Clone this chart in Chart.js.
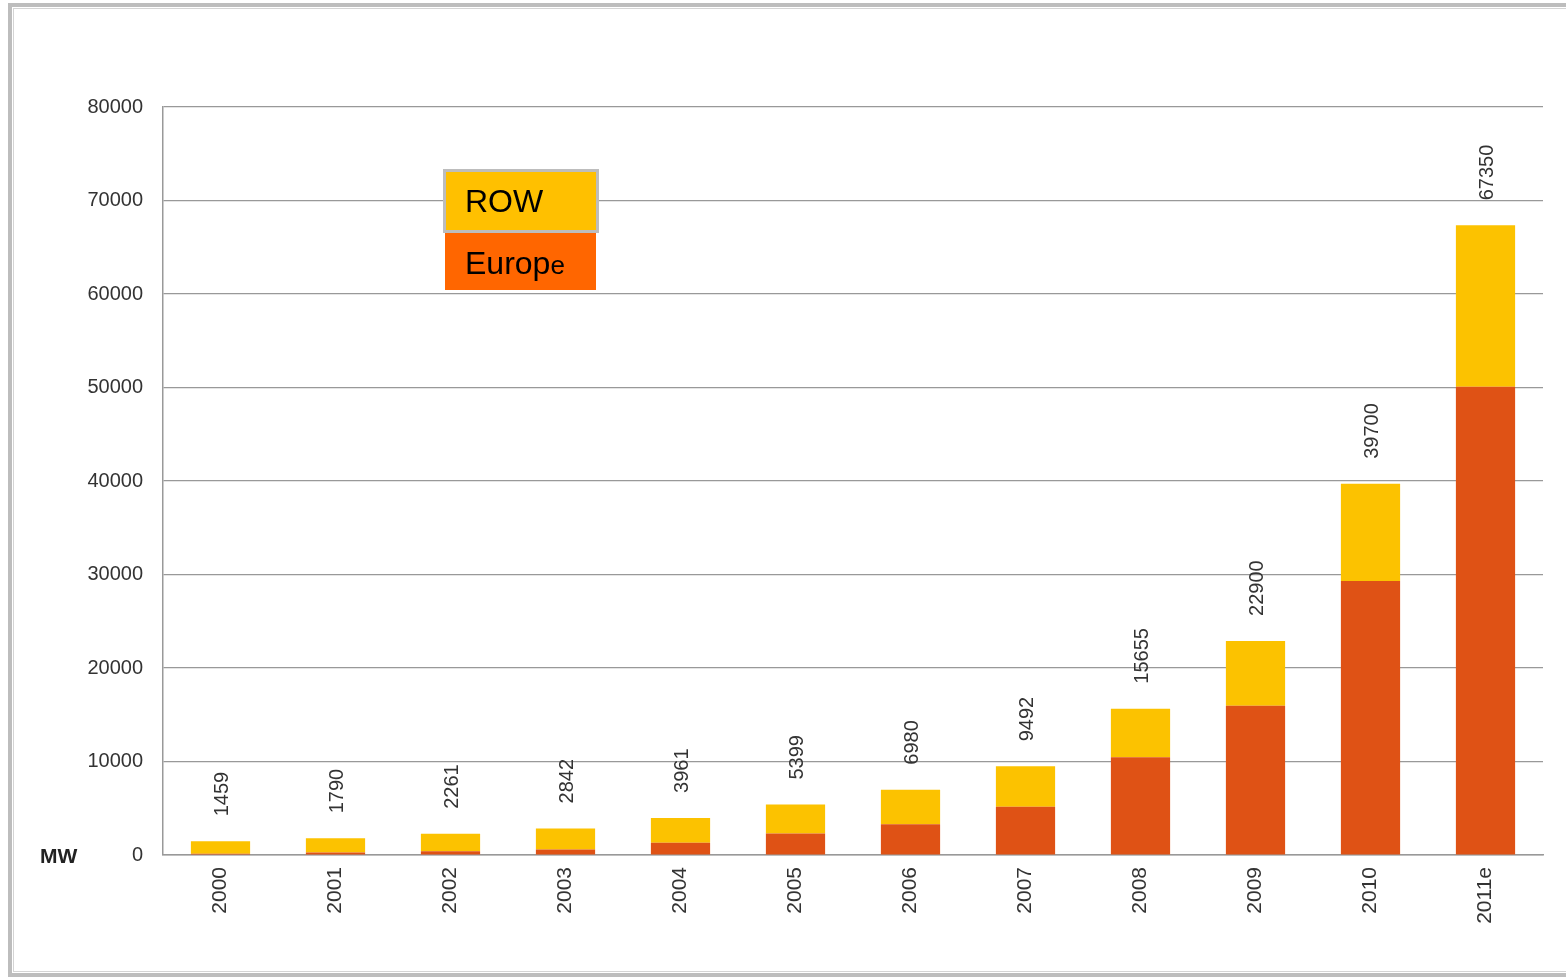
<!DOCTYPE html>
<html>
<head>
<meta charset="utf-8">
<title>PV capacity</title>
<script src="https://cdn.jsdelivr.net/npm/chart.js@4"></script>
<style>
  html, body { margin: 0; padding: 0; background: #fff; overflow: hidden; }
  #wrap { position: relative; width: 1566px; height: 978px; }
  #frame {
    position: absolute; left: 8px; top: 3px; width: 1700px; height: 966px;
    border: 4px solid #bdbdbd; pointer-events: none;
  }
  #frame .inner {
    position: absolute; left: 1px; top: 1px; right: 1px; bottom: 1px;
    border: 1px solid #d4d4d4;
  }
  canvas { position: absolute; left: 0; top: 0; }
</style>
</head>
<body>
<div id="wrap">
  <canvas id="pv" width="1566" height="978"></canvas>
  <div id="frame"><div class="inner"></div></div>
</div>
<script>
// yearly installed capacity, MW
const years = ['2000', '2001', '2002', '2003', '2004', '2005', '2006', '2007', '2008', '2009', '2010', '2011e'];
const totals = [1459, 1790, 2261, 2842, 3961, 5399, 6980, 9492, 15655, 22900, 39700, 67350];
const europe = [130, 260, 400, 600, 1300, 2300, 3280, 5170, 10450, 15970, 29300, 50090];
const row = totals.map((t, i) => t - europe[i]);

const FONT = '"Liberation Sans", Arial, sans-serif';

// total above each stack, rotated
const totalLabels = {
  id: 'totalLabels',
  afterDatasetsDraw(chart) {
    const ctx = chart.ctx;
    const meta = chart.getDatasetMeta(1);
    ctx.save();
    ctx.font = '20px ' + FONT;
    ctx.fillStyle = '#333';
    ctx.textAlign = 'left';
    ctx.textBaseline = 'middle';
    meta.data.forEach((bar, i) => {
      ctx.save();
      ctx.translate(bar.x + 2, bar.y - 25);
      ctx.rotate(-Math.PI / 2);
      ctx.fillText(String(totals[i]), 0, 0);
      ctx.restore();
    });
    ctx.restore();
  }
};

// boxed legend and unit label
const extras = {
  id: 'extras',
  afterDraw(chart) {
    const ctx = chart.ctx;
    ctx.save();
    // ROW box
    ctx.fillStyle = '#ffc000';
    ctx.fillRect(445, 171, 152, 59);
    ctx.strokeStyle = '#bdbdbd';
    ctx.lineWidth = 3;
    ctx.strokeRect(444.5, 170.5, 153, 61);
    // Europe box
    ctx.fillStyle = '#ff6600';
    ctx.fillRect(445, 233, 151, 57);
    ctx.fillStyle = '#000';
    ctx.textBaseline = 'alphabetic';
    ctx.font = '32px ' + FONT;
    ctx.fillText('ROW', 465, 212);
    ctx.fillText('Europ', 465, 274);
    const w = ctx.measureText('Europ').width;
    ctx.font = '26px ' + FONT;
    ctx.fillText('e', 465 + w, 274);
    // unit
    const y0 = chart.scales.y.getPixelForValue(0);
    ctx.font = 'bold 21px ' + FONT;
    ctx.fillStyle = '#222';
    ctx.textBaseline = 'middle';
    ctx.fillText('MW', 40, y0 + 2);
    ctx.restore();
  }
};

new Chart(document.getElementById('pv'), {
  type: 'bar',
  data: {
    labels: years,
    datasets: [
      { label: 'Europe', data: europe, backgroundColor: '#df5215' },
      { label: 'ROW', data: row, backgroundColor: '#fcc200' }
    ]
  },
  options: {
    responsive: false,
    animation: false,
    layout: { padding: { top: 107, right: 23, left: 0, bottom: 0 } },
    plugins: { legend: { display: false }, tooltip: { enabled: false } },
    datasets: { bar: { categoryPercentage: 1, barPercentage: 0.515 } },
    scales: {
      x: {
        stacked: true,
        afterFit(scale) { scale.height = 123; },
        grid: { display: false, drawTicks: false },
        border: { color: '#999', width: 1.5 },
        ticks: {
          color: '#333', font: { family: FONT, size: 21 },
          minRotation: 90, maxRotation: 90, padding: 12
        }
      },
      y: {
        stacked: true,
        min: 0, max: 80000,
        afterFit(scale) { scale.width = 163; },
        grid: { color: '#999', lineWidth: 1.2, drawTicks: false },
        border: { color: '#999', width: 1.5 },
        ticks: {
          stepSize: 10000, padding: 20,
          color: '#333', font: { family: FONT, size: 20 },
          callback: (v) => String(v)
        }
      }
    }
  },
  plugins: [totalLabels, extras]
});
</script>
</body>
</html>
